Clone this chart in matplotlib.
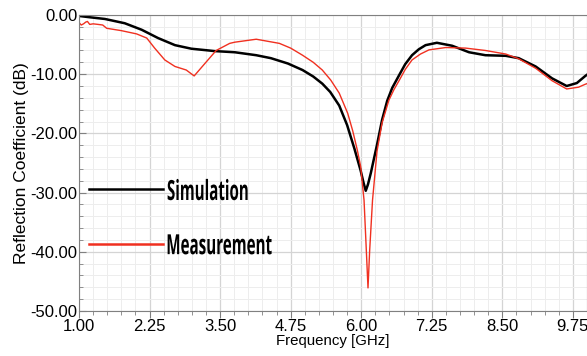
import numpy as np
import matplotlib.pyplot as plt
from matplotlib.ticker import MultipleLocator, FixedLocator, FormatStrFormatter
from matplotlib.textpath import TextPath
from matplotlib.patches import PathPatch
from matplotlib.font_manager import FontProperties
from matplotlib.transforms import Affine2D, ScaledTranslation

# simulated S11 (GHz, dB)
sim_f = [1.00, 1.20, 1.46, 1.81, 2.11, 2.40, 2.70, 2.99, 3.40, 3.76, 4.14, 4.40,
         4.70, 4.96, 5.15, 5.31, 5.45, 5.61, 5.75, 5.88, 5.99, 6.04, 6.08, 6.12,
         6.17, 6.28, 6.37, 6.46, 6.55, 6.67, 6.78, 6.90, 7.02, 7.14, 7.34, 7.61,
         7.91, 8.20, 8.56, 8.79, 9.09, 9.38, 9.64, 9.82, 9.97, 10.00]
sim_db = [-0.17, -0.4, -0.68, -1.4, -2.5, -3.9, -5.1, -5.7, -6.1, -6.3, -6.8, -7.3,
          -8.2, -9.3, -10.4, -11.6, -13.0, -15.3, -18.6, -22.6, -26.3, -28.3, -29.7, -28.6,
          -26.7, -21.9, -17.7, -14.5, -12.3, -10.2, -8.3, -6.8, -5.8, -5.1, -4.7, -5.2,
          -6.3, -6.8, -6.9, -7.3, -8.7, -10.7, -12.0, -11.5, -10.3, -10.1]

# measured S11 (GHz, dB)
meas_f = [1.00, 1.04, 1.08, 1.12, 1.15, 1.19, 1.25, 1.34, 1.42, 1.49, 1.75, 2.02,
          2.20, 2.34, 2.52, 2.70, 2.90, 3.04, 3.23, 3.43, 3.67, 3.76, 4.14, 4.55,
          4.75, 4.96, 5.15, 5.31, 5.46, 5.61, 5.76, 5.85, 5.93, 5.99, 6.05, 6.09,
          6.12, 6.15, 6.20, 6.28, 6.37, 6.49, 6.58, 6.67, 6.78, 6.90, 7.05, 7.20,
          7.50, 7.85, 8.20, 8.56, 8.79, 9.09, 9.38, 9.64, 9.85, 9.97, 10.00]
meas_db = [-1.3, -1.7, -1.5, -1.2, -1.1, -1.6, -1.5, -1.6, -1.7, -2.25, -2.65, -3.2,
           -3.9, -5.6, -7.6, -8.7, -9.3, -10.3, -8.2, -6.0, -4.8, -4.6, -4.1, -4.8,
           -5.6, -6.8, -8.0, -9.3, -11.0, -13.2, -16.6, -19.6, -22.8, -25.6, -31.3, -39.7,
           -46.1, -39.7, -31.3, -23.0, -18.2, -14.4, -12.6, -11.1, -9.2, -7.6, -6.6, -5.9,
           -5.5, -5.6, -6.0, -6.6, -7.4, -9.0, -11.1, -12.5, -12.2, -11.7, -11.6]

x_ticks = [1.00, 2.25, 3.50, 4.75, 6.00, 7.25, 8.50, 9.75]

plt.rcParams['font.family'] = ['Liberation Sans', 'DejaVu Sans']

fig = plt.figure(figsize=(5.87, 3.56), dpi=100)
ax = fig.add_axes([0.1346, 0.1264, 0.8654, 0.8316])

ax.plot(sim_f, sim_db, color='black', lw=1.8, solid_joinstyle='round')
ax.plot(meas_f, meas_db, color='#f03020', lw=1.0, solid_joinstyle='round')

ax.set_xlim(1.0, 10.0)
ax.set_ylim(-50, 0)
ax.xaxis.set_major_locator(FixedLocator(x_ticks))
ax.xaxis.set_minor_locator(MultipleLocator(0.25))
ax.yaxis.set_major_locator(MultipleLocator(10))
ax.yaxis.set_minor_locator(MultipleLocator(2))
ax.xaxis.set_major_formatter(FormatStrFormatter('%.2f'))
ax.yaxis.set_major_formatter(FormatStrFormatter('%.2f'))

ax.grid(which='major', color='#d4d4d4', lw=0.9)
ax.grid(which='minor', color='#ededed', lw=0.7)
ax.set_axisbelow(True)
ax.tick_params(which='both', color='#808080', labelsize=12, pad=1)
ax.tick_params(axis='y', which='both', direction='in')
ax.tick_params(axis='x', which='both', direction='out')
ax.tick_params(which='major', length=5)
ax.tick_params(which='minor', length=3)
for s in ax.spines.values():
    s.set_color('#808080')

ax.set_xlabel('Frequency [GHz]', fontsize=10.8, labelpad=0)
ax.set_ylabel('Reflection Coefficient (dB)', fontsize=12.5, labelpad=1)

# hand-made legend inside the plot
ax.plot([1.18, 2.48], [-29.4, -29.4], color='black', lw=1.8)
ax.plot([1.18, 2.48], [-38.7, -38.7], color='#f03020', lw=1.8)

fp = FontProperties(family='Open Sans', weight='bold')
px_per_pt = fig.dpi / 72.0


def condensed_text(x, y, s, width_px, size_pt):
    tp = TextPath((0, 0), s, size=size_pt, prop=fp)
    ext = tp.get_extents()
    sx = width_px / (ext.width * px_per_pt)
    tr = (Affine2D().translate(-ext.x0, 0).scale(sx * px_per_pt, px_per_pt)
          + ScaledTranslation(x, y, ax.transData))
    ax.add_patch(PathPatch(tp, transform=tr, color='black', lw=0, clip_on=False))


condensed_text(2.57, -31.25, 'Simulation', 80, 20)
condensed_text(2.57, -40.4, 'Measurement', 104, 20)

fig.savefig('out.png', dpi=100)
